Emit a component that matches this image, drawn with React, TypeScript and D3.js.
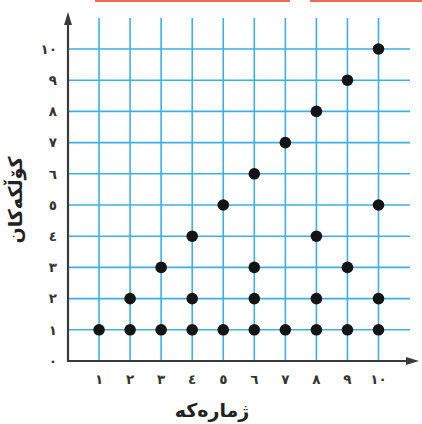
import React, { useRef, useEffect } from 'react';
import * as d3 from 'd3';

// numbers 1..10 and their divisors
const numbers = [1, 2, 3, 4, 5, 6, 7, 8, 9, 10];
const divisors = [[1], [1, 2], [1, 3], [1, 2, 4], [1, 5], [1, 2, 3, 6], [1, 7], [1, 2, 4, 8], [1, 3, 9], [1, 2, 5, 10]];
const tickLabels = ['٠', '۱', '۲', '۳', '٤', '٥', '٦', '۷', '۸', '۹', '۱۰'];
const xTitle = 'ژمارەکە';
const yTitle = 'کۆڵکەکان';

const W = 422;
const H = 424;
const FONT = '"DejaVu Sans", sans-serif';

const App = () => {
  const ref = useRef<SVGSVGElement>(null);

  useEffect(() => {
    const svg = d3.select(ref.current);
    svg.selectAll('*').remove();

    const x = d3.scaleLinear().domain([0, 10]).range([68, 378.5]);
    const y = d3.scaleLinear().domain([0, 10]).range([361, 49]);

    svg.append('rect').attr('width', W).attr('height', H).attr('fill', '#fff');
    // red strip from the page above
    svg.append('rect').attr('x', 95).attr('y', 0).attr('width', 195).attr('height', 2).attr('fill', '#ec6a55');
    svg.append('rect').attr('x', 310).attr('y', 0).attr('width', 112).attr('height', 2).attr('fill', '#ec6a55');

    const grid = svg.append('g').attr('stroke', '#3cb0e2').attr('stroke-width', 1.6);
    grid.selectAll('line.v')
      .data(numbers)
      .join('line')
      .attr('class', 'v')
      .attr('x1', d => x(d)).attr('x2', d => x(d))
      .attr('y1', 18).attr('y2', y(0));
    grid.selectAll('line.h')
      .data(numbers)
      .join('line')
      .attr('class', 'h')
      .attr('x1', x(0)).attr('x2', 410)
      .attr('y1', d => y(d)).attr('y2', d => y(d));

    // axes with arrows
    const axis = svg.append('g').attr('stroke', '#3a3a3a').attr('stroke-width', 2.2);
    axis.append('line').attr('x1', x(0)).attr('x2', 410).attr('y1', y(0)).attr('y2', y(0));
    axis.append('line').attr('x1', x(0)).attr('x2', x(0)).attr('y1', y(0) + 1).attr('y2', 22);
    svg.append('path')
      .attr('d', `M${x(0)},12 L${x(0) - 4},25 L${x(0) + 4},25 Z`)
      .attr('fill', '#3a3a3a');
    svg.append('path')
      .attr('d', `M419,${y(0)} L406,${y(0) - 4} L406,${y(0) + 4} Z`)
      .attr('fill', '#3a3a3a');

    // dots
    const pts = numbers.flatMap((n, i) => divisors[i].map(d => ({ n, d })));
    svg.append('g')
      .selectAll('circle')
      .data(pts)
      .join('circle')
      .attr('cx', p => x(p.n))
      .attr('cy', p => y(p.d))
      .attr('r', 5.8)
      .attr('fill', '#141414');

    // tick labels
    svg.append('g')
      .selectAll('text')
      .data(d3.range(0, 11))
      .join('text')
      .attr('x', 57)
      .attr('y', d => y(d))
      .attr('dy', '0.35em')
      .attr('text-anchor', 'end')
      .attr('font-family', FONT)
      .attr('font-weight', 'bold')
      .attr('font-size', 13.5)
      .attr('fill', '#333')
      .text(d => tickLabels[d]);
    svg.append('g')
      .selectAll('text')
      .data(numbers)
      .join('text')
      .attr('x', d => x(d))
      .attr('y', 384)
      .attr('text-anchor', 'middle')
      .attr('font-family', FONT)
      .attr('font-weight', 'bold')
      .attr('font-size', 13.5)
      .attr('fill', '#333')
      .text(d => tickLabels[d]);

    // titles
    svg.append('text')
      .attr('x', 212)
      .attr('y', 417)
      .attr('text-anchor', 'middle')
      .attr('font-family', FONT)
      .attr('font-weight', 'bold')
      .attr('font-size', 19)
      .attr('fill', '#222')
      .text(xTitle);
    svg.append('text')
      .attr('transform', `translate(22,${200}) rotate(-90)`)
      .attr('text-anchor', 'middle')
      .attr('font-family', FONT)
      .attr('font-weight', 'bold')
      .attr('font-size', 19)
      .attr('fill', '#222')
      .text(yTitle);
  }, []);

  return (
    <svg
      ref={ref}
      width={W}
      height={H}
      style={{ position: 'absolute', left: 0, top: 0, display: 'block' }}
    />
  );
};

export default App;
